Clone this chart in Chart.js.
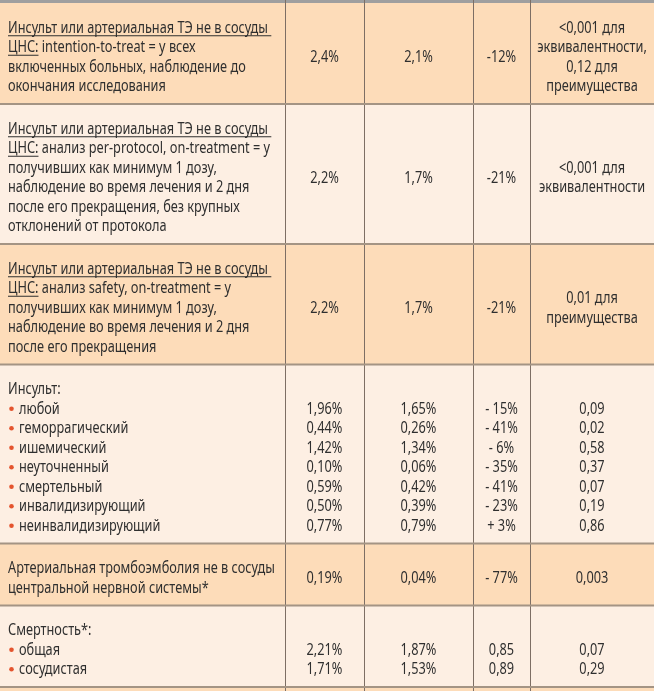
<!DOCTYPE html>
<html>
<head>
    <meta charset="utf-8">
    <title>Инсульт или артериальная ТЭ - результаты</title>
    <script src="https://cdn.jsdelivr.net/npm/chart.js"></script>
    <style>
        body {
            margin: 0;
            background: #fdefe3;
        }
        canvas {
            display: block;
        }
    </style>
</head>
<body>
    <canvas id="myChart" width="654" height="691"></canvas>

    <script>
        // first column, one entry per row ("__" marks underlined parts, "• " a bullet item)
        const outcomes = [
            ['__Инсульт или артериальная ТЭ не в сосуды __', '__ЦНС:__ intention-to-treat = у всех', 'включенных больных, наблюдение до', 'окончания исследования'],
            ['__Инсульт или артериальная ТЭ не в сосуды __', '__ЦНС:__ анализ per-protocol, on-treatment = у', 'получивших как минимум 1 дозу,', 'наблюдение во время лечения и 2 дня', 'после его прекращения, без крупных', 'отклонений от протокола'],
            ['__Инсульт или артериальная ТЭ не в сосуды __', '__ЦНС:__ анализ safety, on-treatment = у', 'получивших как минимум 1 дозу,', 'наблюдение во время лечения и 2 дня', 'после его прекращения'],
            ['Инсульт:', '• любой', '• геморрагический', '• ишемический', '• неуточненный', '• смертельный', '• инвалидизирующий', '• неинвалидизирующий'],
            ['Артериальная тромбоэмболия не в сосуды', 'центральной нервной системы*'],
            ['Смертность*:', '• общая', '• сосудистая']
        ];
        const groupA = [['2,4%'], ['2,2%'], ['2,2%'], ['', '1,96%', '0,44%', '1,42%', '0,10%', '0,59%', '0,50%', '0,77%'], ['0,19%'], ['', '2,21%', '1,71%']];
        const groupB = [['2,1%'], ['1,7%'], ['1,7%'], ['', '1,65%', '0,26%', '1,34%', '0,06%', '0,42%', '0,39%', '0,79%'], ['0,04%'], ['', '1,87%', '1,53%']];
        const relChange = [['-12%'], ['-21%'], ['-21%'], ['', '- 15%', '- 41%', '- 6%', '- 35%', '- 41%', '- 23%', '+ 3%'], ['- 77%'], ['', '0,85', '0,89']];
        const pValues = [['<0,001 для', 'эквивалентности,', '0,12 для', 'преимущества'], ['<0,001 для', 'эквивалентности'], ['0,01 для', 'преимущества'], ['', '0,09', '0,02', '0,58', '0,37', '0,07', '0,19', '0,86'], ['0,003'], ['', '0,07', '0,29']];
        const shaded = [true, false, true, false, true, false];

        // layout
        const colEdges = [0, 285, 364, 473, 530, 654];
        const lineH = 19.5;
        const rowPad = 23;
        const tableTop = 3;
        const font = '16px "Noto Sans", "Open Sans", sans-serif';
        const textColor = '#2f2f2f';

        const tablePlugin = {
            id: 'tablePlugin',
            afterDraw(chart) {
                const ctx = chart.ctx;
                const px = v => chart.scales.x.getPixelForValue(v);
                const py = v => chart.scales.y.getPixelForValue(v);

                ctx.save();
                ctx.font = font;
                // squeeze the font to the narrow face of the original
                const sx = 260 / ctx.measureText('Инсульт или артериальная ТЭ не в сосуды').width;

                function text(str, x, y, align) {
                    ctx.save();
                    ctx.translate(x, y);
                    ctx.scale(sx, 1);
                    ctx.textAlign = align;
                    ctx.textBaseline = 'alphabetic';
                    ctx.fillStyle = textColor;
                    ctx.fillText(str, 0, 0);
                    ctx.restore();
                }

                function labelLine(str, x, y) {
                    if (str.startsWith('• ')) {
                        ctx.fillStyle = '#e4542e';
                        ctx.beginPath();
                        ctx.arc(x + 3.5, y - 5, 2.3, 0, Math.PI * 2);
                        ctx.fill();
                        str = str.slice(2);
                        x += 11;
                    }
                    const parts = str.split('__');
                    parts.forEach((p, i) => {
                        const w = ctx.measureText(p).width * sx;
                        text(p, x, y, 'left');
                        if (i % 2 === 1) {
                            ctx.fillStyle = textColor;
                            ctx.fillRect(x, y + 2.5, w, 1);
                        }
                        x += w;
                    });
                }

                // top strip
                ctx.fillStyle = '#9f9f9f';
                ctx.fillRect(px(0), py(0), px(654) - px(0), py(tableTop) - py(0));

                let y0 = tableTop;
                const bounds = [];
                outcomes.forEach((lines, r) => {
                    const h = lines.length * lineH + rowPad;
                    bounds.push(y0 + h);
                    ctx.fillStyle = shaded[r] ? '#fddcb9' : '#fdefe3';
                    ctx.fillRect(px(0), py(y0), px(654) - px(0), py(y0 + h) - py(y0));

                    const mid = y0 + h / 2;
                    const lineBase = i => py(mid + (i - (lines.length - 1) / 2) * lineH + 8.5);

                    lines.forEach((ln, i) => labelLine(ln, px(8), lineBase(i)));

                    [groupA, groupB, relChange, pValues].forEach((col, c) => {
                        const vals = col[r];
                        const cx = px((colEdges[c + 1] + colEdges[c + 2]) / 2);
                        vals.forEach((v, i) => {
                            if (!v) return;
                            let yy;
                            if (vals.length === lines.length) {
                                yy = lineBase(i);
                            } else {
                                yy = py(mid + (i - (vals.length - 1) / 2) * lineH + 8.5);
                            }
                            text(v, cx, yy, 'center');
                        });
                    });
                    y0 += h;
                });

                // bottom strip below the last row
                ctx.fillStyle = '#fddcb9';
                ctx.fillRect(px(0), py(y0), px(654) - px(0), py(691) - py(y0));

                // vertical rules
                ctx.fillStyle = '#7d6e64';
                colEdges.slice(1, -1).forEach(x => {
                    ctx.fillRect(px(x), py(0), 1, py(691) - py(0));
                });

                // horizontal rules
                ctx.fillStyle = '#a49484';
                bounds.forEach(b => {
                    ctx.fillRect(px(0), py(b) - 1, px(654) - px(0), 2);
                });
                ctx.restore();
            }
        };

        const config = {
            type: 'scatter',
            data: { datasets: [] },
            options: {
                responsive: false,
                animation: false,
                layout: { padding: 0 },
                plugins: {
                    legend: { display: false },
                    tooltip: { enabled: false }
                },
                scales: {
                    x: { type: 'linear', min: 0, max: 654, display: false },
                    y: { type: 'linear', min: 0, max: 691, reverse: true, display: false }
                }
            },
            plugins: [tablePlugin]
        };

        const ctx = document.getElementById('myChart').getContext('2d');
        const myChart = new Chart(ctx, config);
    </script>
</body>
</html>
